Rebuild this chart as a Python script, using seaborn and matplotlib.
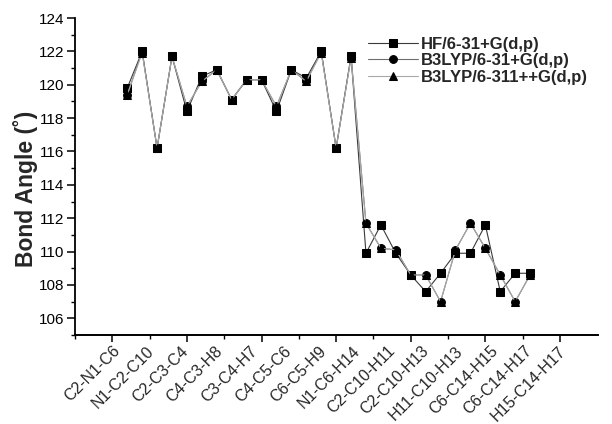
import numpy as np
import pandas as pd
import matplotlib
matplotlib.use("Agg")
import matplotlib.pyplot as plt
import seaborn as sns

# ---- data ----
tick_labels = ["C2-N1-C6", "N1-C2-C10", "C2-C3-C4", "C4-C3-H8", "C3-C4-H7",
               "C4-C5-C6", "C6-C5-H9", "N1-C6-H14", "C2-C10-H11", "C2-C10-H13",
               "H11-C10-H13", "C6-C14-H15", "C6-C14-H17", "H15-C14-H17"]
series_names = ["HF/6-31+G(d,p)", "B3LYP/6-31+G(d,p)", "B3LYP/6-311++G(d,p)"]
hf = [119.8, 122.0, 116.2, 121.7, 118.4, 120.5, 120.9, 119.1, 120.3, 120.3,
      118.4, 120.9, 120.4, 122.0, 116.2, 121.7, 109.9, 111.6, 109.9, 108.6,
      107.6, 108.7, 109.9, 109.9, 111.6, 107.6, 108.7, 108.7]
b3_631 = [119.4, 122.0, 116.2, 121.7, 118.7, 120.2, 120.9, 119.1, 120.3, 120.3,
          118.7, 120.9, 120.2, 122.0, 116.2, 121.7, 111.7, 110.2, 110.1, 108.6,
          108.6, 107.0, 110.1, 111.7, 110.2, 108.6, 107.0, 108.6]
b3_6311 = [119.4, 121.9, 116.2, 121.7, 118.7, 120.2, 120.9, 119.1, 120.3, 120.3,
           118.7, 120.9, 120.2, 121.9, 116.2, 121.6, 111.7, 110.2, 110.1, 108.6,
           108.6, 107.0, 110.1, 111.7, 110.2, 108.6, 107.0, 108.6]

sns.set_style("ticks")
plt.rcParams["font.family"] = ["Liberation Sans", "DejaVu Sans"]

fig = plt.figure(figsize=(6.12, 4.24), dpi=100)
ax = fig.add_axes([75 / 612, 1 - 335 / 424, (598 - 75) / 612, (335 - 18) / 424])

idx = np.arange(1, len(hf) + 1)
line_colors = ["#3a3a3a", "#6e6e6e", "#a8a8a8"]
markers = ["s", "o", "^"]
msizes = [5.2, 5.6, 6.2]
for vals, name, c, m, ms in zip([hf, b3_631, b3_6311], series_names, line_colors, markers, msizes):
    df = pd.DataFrame({"x": idx, "y": vals})
    sns.lineplot(data=df, x="x", y="y", ax=ax, color=c, lw=0.8, marker=m,
                 markersize=ms, markerfacecolor="black", markeredgecolor="black",
                 label=name, legend=False)

ax.set_xlim(-2.5, 32.55)
ax.set_ylim(105, 124)
for s in ["top", "right"]:
    ax.spines[s].set_visible(False)
for s in ["left", "bottom"]:
    ax.spines[s].set_linewidth(1.3)
    ax.spines[s].set_color("black")

# y ticks
ax.set_yticks(np.arange(106, 125, 2))
ax.set_yticks(np.arange(105, 125, 1), minor=True)
ax.tick_params(axis="y", which="major", direction="out", length=6, width=1.1,
               labelsize=11, pad=2, colors="black")
ax.tick_params(axis="y", which="minor", direction="out", length=3, width=1.0, colors="black")

# x: labels on main axis (no marks), marks on secondary axis
label_pos = 0.0 + 2.3 * np.arange(len(tick_labels))
ax.set_xticks(label_pos)
ax.set_xticklabels(tick_labels, rotation=45, ha="right", va="top",
                   rotation_mode="anchor", fontsize=11.5)
ax.tick_params(axis="x", which="major", length=0, pad=6)
ax.tick_params(axis="x", which="minor", length=0)
sec = ax.secondary_xaxis("bottom")
sec.set_xticks(np.arange(0, 32, 5))
sec.set_xticks(np.arange(-2.5, 32, 2.5), minor=True)
sec.set_xticklabels([])
sec.tick_params(axis="x", which="major", direction="out", length=5, width=1.1, colors="black")
sec.tick_params(axis="x", which="minor", direction="out", length=3, width=1.0, colors="black")
sec.spines["bottom"].set_linewidth(1.3)

ax.set_xlabel("")
ax.set_ylabel("Bond Angle (˚)", fontsize=16.5, fontweight="bold")
ax.yaxis.set_label_coords(-0.07, 0.46)

handles, labels = ax.get_legend_handles_labels()
leg = fig.legend(handles, labels, loc="upper left", bbox_to_anchor=(368 / 612, 1 - 37 / 424),
                 frameon=False, fontsize=12, handlelength=3.0, handletextpad=0.15,
                 labelspacing=0.08, borderpad=0, borderaxespad=0)
for t in leg.get_texts():
    t.set_fontweight("bold")

fig.savefig("out.png", dpi=100)
